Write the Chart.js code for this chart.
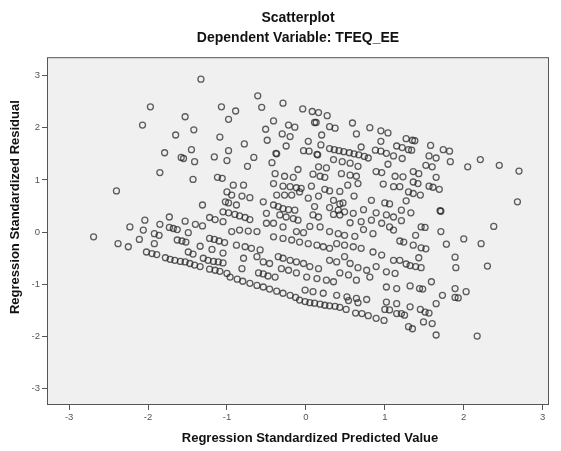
<!DOCTYPE html>
<html>
<head>
<meta charset="utf-8">
<script src="https://cdn.jsdelivr.net/npm/chart.js@4.4.1/dist/chart.umd.min.js"></script>
<style>
  html, body { margin: 0; padding: 0; background: #fff; }
  #wrap { width: 561px; height: 451px; }
</style>
</head>
<body>
<div id="wrap"><canvas id="residualPlot" width="561" height="451"></canvas></div>
<script>
// standardized predicted value (x) / standardized residual (y), by area of the plot
const upperLeftX = [-1.33, -1.97, -1.07, -1.53, -2.07, -1.42, -0.98, -1.65, -1.09, -1.45, -1.79, -1.58, -1.55, -1.41, -1.16, -0.98, -1.00, -1.85, -1.43, -1.12, -1.06];
const upperLeftY = [2.93, 2.40, 2.40, 2.21, 2.05, 1.96, 2.16, 1.86, 1.82, 1.58, 1.52, 1.43, 1.41, 1.35, 1.44, 1.56, 1.37, 1.14, 1.01, 1.05, 1.03];

const upperMidX = [
  -0.61, -0.56, -0.29, -0.89, -0.04, 0.08, 0.16, 0.27, -0.41, 0.11, 0.13, -0.22, -0.14, -0.51, 0.30, 0.37, 0.59, 0.81, 0.95, 1.04,
  -0.30, -0.20, 0.20, 0.64, -0.49, 0.03, -0.78, -0.25, 0.19, 0.70, 0.95, 1.15, -0.03, 0.04,
  0.30, 0.36, 0.42, 0.48, 0.55, 0.61, 0.67, 0.74, 0.79,
  0.14, 0.15, -0.38, -0.37, -0.66, 0.88, 0.95, 1.02, 1.11, 0.35, 0.46, 0.56, 0.66, -0.43, -0.74, -0.10, 0.16, 0.26, 0.89, 0.96, 1.04, 1.13,
  -0.39, -0.27, -0.16, 0.09, 0.18, 0.24, 0.45, 0.56, 0.64,
];
const upperMidY = [
  2.61, 2.39, 2.47, 2.32, 2.36, 2.31, 2.29, 2.23, 2.13, 2.10, 2.10, 2.05, 2.01, 1.97, 2.02, 1.99, 2.09, 2.00, 1.94, 1.90,
  1.88, 1.83, 1.86, 1.88, 1.76, 1.74, 1.69, 1.65, 1.67, 1.63, 1.74, 1.65, 1.56, 1.55,
  1.60, 1.58, 1.56, 1.54, 1.52, 1.50, 1.48, 1.45, 1.42,
  1.49, 1.48, 1.51, 1.50, 1.43, 1.57, 1.55, 1.51, 1.46, 1.39, 1.35, 1.32, 1.26, 1.33, 1.26, 1.20, 1.25, 1.23, 1.16, 1.14, 1.30, 1.07,
  1.12, 1.07, 1.05, 1.11, 1.07, 1.05, 1.12, 1.09, 1.07,
];

const upperRightX = [1.27, 1.35, 1.38, 1.22, 1.30, 1.34, 1.58, 1.74, 1.82, 1.22, 1.56, 1.65, 1.83, 1.52, 1.60, 2.05, 2.21, 2.45, 2.70, 1.36, 1.43, 1.65, 1.23];
const upperRightY = [1.79, 1.76, 1.75, 1.62, 1.58, 1.57, 1.66, 1.58, 1.55, 1.41, 1.46, 1.42, 1.35, 1.28, 1.25, 1.25, 1.39, 1.28, 1.17, 1.16, 1.12, 1.05, 1.06];

const rightX = [
  2.68, 2.38, 2.00, 2.22, 1.78, 1.71, 1.70, 1.71, 1.89, 1.90, 2.30, 1.59, 1.89, 2.03, 1.73, 1.89, 1.93, 1.32, 1.44, 1.48,
  1.43, 1.27, 1.32, 1.39, 1.46, 1.36, 1.46, 1.52, 1.19, 1.24, 1.39, 1.46, 1.51, 1.21, 1.33, 1.21, 1.27, 1.30, 1.36, 1.45,
  1.56, 1.61, 1.69, 1.36, 1.42, 1.19,
];
const rightY = [
  0.58, 0.11, -0.13, -0.22, -0.23, 0.01, 0.41, 0.40, -0.48, -0.68, -0.65, -0.95, -1.08, -1.14, -1.21, -1.25, -1.26, -1.03, -1.08, -1.09,
  -0.49, -0.61, -0.64, -0.66, -0.68, -0.25, -0.30, -0.32, -0.17, -0.19, -0.06, 0.10, 0.09, 0.22, 0.37, 0.42, 0.60, 0.77, 0.74, 0.71,
  0.88, 0.86, 0.82, 0.96, 0.93, -0.54,
];

const lowerRightX = [1.32, 1.45, 1.51, 1.56, 1.65, 1.21, 1.25, 1.49, 1.60, 1.30, 1.35, 1.65, 2.17];
const lowerRightY = [-1.43, -1.48, -1.53, -1.55, -1.37, -1.56, -1.59, -1.72, -1.75, -1.81, -1.85, -1.97, -1.99];

const leftX = [
  -2.40, -2.69, -1.31, -1.00, -1.02, -0.98, -1.05, -0.98, -1.73, -2.04,
  -2.23, -2.06, -1.85, -1.73, -1.68, -1.63, -1.53, -1.40, -1.31, -1.22,
  -1.15, -1.05, -1.92, -1.86, -1.49, -2.11, -2.38, -2.25, -1.92, -1.63,
  -1.57, -1.52, -1.22, -1.16, -1.10, -1.03, -1.34, -1.19, -1.05, -1.49,
  -1.43, -2.02, -1.95, -1.89, -1.78, -1.72, -1.66, -1.59, -1.53, -1.47,
  -1.41, -1.34, -1.30, -1.24, -1.17, -1.11, -1.05, -1.22, -1.15, -1.09, -1.00,
];
const leftY = [
  0.79, -0.09, 0.52, 0.77, 0.58, 0.56, 0.39, 0.37, 0.29, 0.23,
  0.10, 0.04, 0.15, 0.09, 0.07, 0.05, 0.21, 0.15, 0.12, 0.28,
  0.24, 0.20, -0.03, -0.06, -0.01, -0.14, -0.22, -0.28, -0.22, -0.15,
  -0.17, -0.19, -0.12, -0.14, -0.17, -0.20, -0.27, -0.33, -0.40, -0.38,
  -0.42, -0.38, -0.41, -0.43, -0.49, -0.52, -0.54, -0.56, -0.57, -0.60,
  -0.63, -0.66, -0.50, -0.54, -0.56, -0.57, -0.59, -0.71, -0.73, -0.75, -0.79,
];

const centreX = [
  -0.92, -0.79, -0.41, -0.29, -0.20, -0.12, -0.06, 0.07, 0.24, 0.30, 0.43, 0.53, 0.66, 0.98, 1.11, 1.19,
  -0.94, -0.81, -0.71, -0.54, -0.37, -0.27, -0.18, -0.08, 0.03, 0.16, 0.35, 0.47, 0.61, 0.43, 0.83, 1.00, 1.06,
  -0.88, -0.41, -0.35, -0.29, -0.22, -0.14, 0.11, 0.30, 0.41, 0.49, 0.60, 0.73, 0.89, 1.02, 1.11,
  -0.90, -0.84, -0.77, -0.71, -0.50, -0.33, -0.25, -0.16, -0.10, 0.09, 0.16, 0.35, 0.43, 0.56, 0.70, 0.83, 0.96, 1.06,
  -0.94, -0.84, -0.73, -0.62, -0.50, -0.41, -0.29, -0.12, -0.03, 0.05, 0.18, 0.30, 0.41, 0.49, 0.62, 0.73, 0.85, 1.11,
  -0.88, -0.77, -0.69, -0.58, -0.41, -0.29, -0.18, -0.08, 0.03, 0.14, 0.22, 0.30, 0.39, 0.49, 0.60, 0.70, 0.85, 0.96, 1.11,
  -0.79, -0.81, -0.62, -0.54, -0.46, -0.35, -0.29, -0.20, -0.12, -0.03, 0.05, 0.16, 0.30, 0.39, 0.49, 0.56, 0.66, 0.77, 0.89, 1.02, 1.13,
  -0.60, -0.54, -0.48, -0.39, -0.31, -0.22, -0.12, 0.01, 0.14, 0.26, 0.35, 0.43, 0.54, 0.64, 0.81, 1.02, 1.15,
  -0.96, -0.87, -0.80, -0.71, -0.62, -0.54, -0.46, -0.37, -0.29, -0.20, -0.13,
  -0.01, 0.09, 0.22, 0.39, 0.52, 0.64, 0.77,
];
const centreY = [
  0.90, 0.90, 0.93, 0.88, 0.87, 0.85, 0.84, 0.88, 0.82, 0.79, 0.78, 0.90, 0.93, 0.92, 0.87, 0.87,
  0.71, 0.69, 0.66, 0.58, 0.71, 0.71, 0.71, 0.77, 0.65, 0.69, 0.61, 0.56, 0.69, 0.54, 0.61, 0.56, 0.54,
  0.52, 0.52, 0.49, 0.45, 0.43, 0.42, 0.49, 0.47, 0.42, 0.39, 0.36, 0.43, 0.37, 0.33, 0.29,
  0.34, 0.31, 0.28, 0.24, 0.36, 0.33, 0.29, 0.26, 0.23, 0.33, 0.29, 0.34, 0.33, 0.18, 0.20, 0.23, 0.17, 0.10,
  0.01, 0.04, 0.02, 0.01, 0.17, 0.17, 0.10, 0.01, -0.01, 0.11, 0.10, 0.01, -0.03, -0.06, -0.08, 0.05, -0.03, 0.04,
  -0.25, -0.28, -0.31, -0.34, -0.09, -0.12, -0.15, -0.19, -0.22, -0.25, -0.28, -0.31, -0.22, -0.25, -0.28, -0.31, -0.38, -0.44, -0.54,
  -0.50, -0.70, -0.47, -0.57, -0.60, -0.47, -0.50, -0.54, -0.57, -0.60, -0.66, -0.70, -0.54, -0.57, -0.47, -0.60, -0.68, -0.73, -0.66, -0.76, -0.79,
  -0.78, -0.80, -0.84, -0.86, -0.70, -0.73, -0.78, -0.86, -0.89, -0.92, -0.95, -0.78, -0.82, -0.92, -0.86, -1.05, -1.08,
  -0.86, -0.90, -0.94, -0.98, -1.02, -1.05, -1.09, -1.13, -1.17, -1.21, -1.25,
  -1.11, -1.14, -1.17, -1.21, -1.24, -1.27, -1.29,
];

const bottomX = [-0.08, -0.01, 0.05, 0.11, 0.18, 0.24, 0.30, 0.37, 0.43, 0.51, 0.63, 0.71, 0.79, 0.89, 0.99, 0.66, 0.54, 1.00, 1.06, 1.15, 1.02, 1.15];
const bottomY = [-1.30, -1.33, -1.35, -1.36, -1.38, -1.40, -1.41, -1.42, -1.44, -1.48, -1.55, -1.56, -1.60, -1.65, -1.69, -1.35, -1.31, -1.48, -1.49, -1.56, -1.34, -1.37];

const axisTicks = [-3, -2, -1, 0, 1, 2, 3];

const groups = [
  [upperLeftX, upperLeftY],
  [upperMidX, upperMidY],
  [upperRightX, upperRightY],
  [rightX, rightY],
  [lowerRightX, lowerRightY],
  [leftX, leftY],
  [centreX, centreY],
  [bottomX, bottomY],
];

const points = [];
groups.forEach(([xs, ys]) => {
  xs.forEach((x, i) => points.push({ x: x, y: ys[i] }));
});

// grey plot area, box around it and the two axis titles
const plotFrame = {
  id: "plotFrame",
  beforeDraw(chart) {
    const { ctx, chartArea: a } = chart;
    ctx.save();
    ctx.fillStyle = "#f0f0f0";
    ctx.fillRect(a.left, a.top, a.right - a.left, a.bottom - a.top);
    ctx.restore();
  },
  afterDraw(chart) {
    const { ctx, chartArea: a } = chart;
    ctx.save();
    ctx.strokeStyle = "#555";
    ctx.lineWidth = 1;
    ctx.strokeRect(a.left + 0.5, a.top + 0.5, a.right - a.left - 1, a.bottom - a.top - 1);

    ctx.fillStyle = "#111";
    ctx.font = "bold 13px 'Liberation Sans', Arial, sans-serif";
    ctx.textAlign = "center";
    ctx.textBaseline = "middle";
    ctx.fillText("Regression Standardized Predicted Value", (a.left + a.right) / 2 + 12, a.bottom + 33);
    ctx.translate(15, (a.top + a.bottom) / 2 - 24);
    ctx.rotate(-Math.PI / 2);
    ctx.fillText("Regression Standardized Residual", 0, 0);
    ctx.restore();
  },
};

Chart.defaults.font.family = "'Liberation Sans', Arial, sans-serif";

new Chart(document.getElementById("residualPlot"), {
  type: "scatter",
  data: {
    datasets: [
      {
        data: points,
        pointRadius: 3,
        pointBorderWidth: 1.3,
        pointBorderColor: "rgba(35, 35, 35, 0.72)",
        pointBackgroundColor: "rgba(0, 0, 0, 0)",
      },
    ],
  },
  options: {
    responsive: false,
    animation: false,
    layout: { padding: { left: 0, right: 12, top: 0, bottom: 0 } },
    scales: {
      x: {
        type: "linear",
        min: -3.28,
        max: 3.08,
        afterBuildTicks: (scale) => {
          scale.ticks = axisTicks.map((v) => ({ value: v }));
        },
        afterFit: (scale) => {
          scale.height = 46;
        },
        grid: { drawOnChartArea: false, drawTicks: true, tickLength: 5, color: "#555" },
        border: { display: false },
        ticks: { font: { size: 9.5 }, color: "#555", padding: 2, maxRotation: 0 },
      },
      y: {
        type: "linear",
        min: -3.31,
        max: 3.35,
        afterBuildTicks: (scale) => {
          scale.ticks = axisTicks.map((v) => ({ value: v }));
        },
        afterFit: (scale) => {
          scale.width = 47;
        },
        grid: { drawOnChartArea: false, drawTicks: true, tickLength: 5, color: "#555" },
        border: { display: false },
        ticks: { font: { size: 9.5 }, color: "#555", padding: 2 },
      },
    },
    plugins: {
      legend: { display: false },
      tooltip: { enabled: false },
      title: {
        display: true,
        text: "Scatterplot",
        fullSize: false,
        color: "#111",
        font: { size: 14, weight: "bold" },
        padding: { top: 10, bottom: 3 },
      },
      subtitle: {
        display: true,
        text: "Dependent Variable: TFEQ_EE",
        fullSize: false,
        color: "#111",
        font: { size: 14, weight: "bold" },
        padding: { top: 0, bottom: 10.6 },
      },
    },
  },
  plugins: [plotFrame],
});
</script>
</body>
</html>
